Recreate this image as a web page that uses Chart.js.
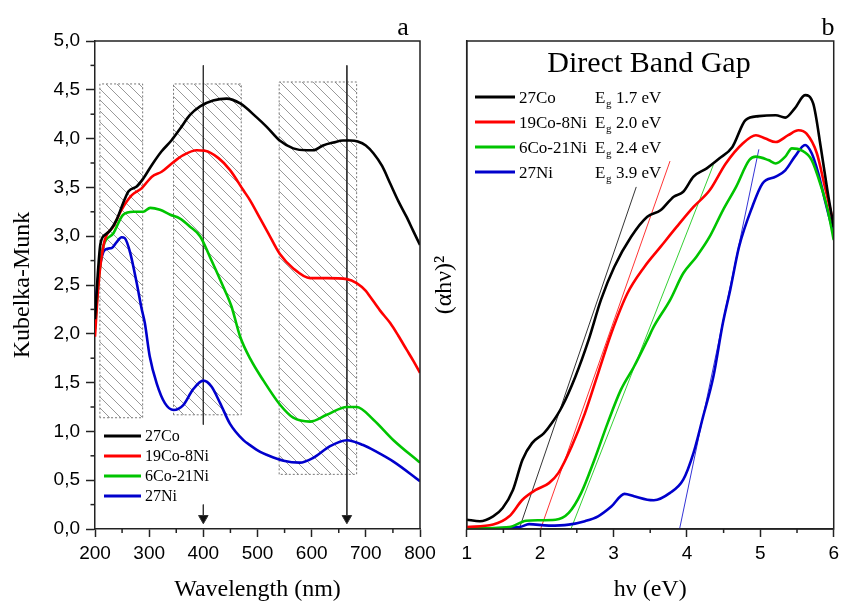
<!DOCTYPE html>
<html lang="en">
<head>
<meta charset="UTF-8">
<title>Kubelka-Munk / Direct Band Gap</title>
<script src="https://cdn.jsdelivr.net/npm/chart.js"></script>
<style>
  body { margin: 0; background: #fff; }
  .wrap { position: relative; width: 844px; height: 606px; }
  canvas { position: absolute; left: 0; top: 0; }
</style>
</head>
<body>
<div class="wrap">
  <canvas id="chartA" width="844" height="606"></canvas>
  <canvas id="chartB" width="844" height="606"></canvas>
</div>
<script>
// ---- panel a : Kubelka-Munk vs wavelength ----
var seriesNames = ['27Co', '19Co-8Ni', '6Co-21Ni', '27Ni'];
var bandGaps = ['1.7', '2.0', '2.4', '3.9'];

var wlCo = [200, 205, 210, 220, 228, 240, 252, 262, 277, 289, 305, 323, 341, 357, 375, 394, 418, 443, 468, 498, 517, 541, 566, 591, 603, 621, 640, 658, 672, 685, 700, 714, 730, 745, 760, 775, 787, 800];
var kmCo = [2.15, 2.60, 2.92, 3.02, 3.06, 3.17, 3.34, 3.46, 3.51, 3.59, 3.73, 3.87, 3.98, 4.10, 4.24, 4.33, 4.39, 4.41, 4.36, 4.22, 4.12, 3.98, 3.90, 3.88, 3.88, 3.93, 3.96, 3.98, 3.98, 3.97, 3.93, 3.85, 3.72, 3.54, 3.36, 3.20, 3.06, 2.91];

var wlCoNi = [200, 205, 210, 218, 234, 249, 268, 286, 305, 323, 345, 363, 388, 403, 428, 449, 474, 486, 505, 520, 541, 566, 597, 628, 665, 683, 700, 708, 726, 745, 760, 775, 788, 800];
var kmCoNi = [1.97, 2.40, 2.70, 2.96, 3.10, 3.27, 3.42, 3.49, 3.61, 3.66, 3.76, 3.83, 3.88, 3.875, 3.80, 3.68, 3.47, 3.37, 3.18, 3.03, 2.82, 2.67, 2.57, 2.57, 2.56, 2.52, 2.44, 2.38, 2.24, 2.11, 1.98, 1.84, 1.72, 1.60];

var wlNiCo = [200, 205, 210, 215, 234, 252, 271, 289, 302, 320, 339, 357, 375, 394, 412, 437, 452, 468, 487, 511, 542, 566, 597, 628, 665, 683, 714, 751, 800];
var kmNiCo = [2.05, 2.45, 2.72, 2.89, 3.03, 3.22, 3.25, 3.25, 3.29, 3.27, 3.22, 3.18, 3.10, 3.00, 2.79, 2.48, 2.28, 1.97, 1.74, 1.52, 1.27, 1.14, 1.10, 1.17, 1.25, 1.25, 1.12, 0.91, 0.68];

var wlNi = [200, 203, 209, 218, 231, 240, 249, 255, 265, 277, 286, 292, 301, 314, 329, 345, 363, 381, 400, 415, 431, 449, 474, 486, 505, 517, 548, 578, 603, 634, 665, 695, 720, 751, 800];
var kmNi = [2.12, 2.42, 2.69, 2.86, 2.88, 2.94, 2.99, 2.98, 2.83, 2.52, 2.26, 2.11, 1.77, 1.49, 1.29, 1.22, 1.27, 1.43, 1.52, 1.46, 1.29, 1.08, 0.91, 0.86, 0.79, 0.76, 0.70, 0.68, 0.73, 0.85, 0.91, 0.86, 0.79, 0.69, 0.49];

// hatched bands
var bandFrom = [209, 345, 540];
var bandTo = [288, 470, 683];
var bandTop = [4.56, 4.56, 4.58];
var bandBottom = [1.14, 1.17, 0.56];

// vertical markers with arrow
var markerWl = [400, 665];
var markerTop = 4.75;
var markerGap = [1.07, 0.25]; // line at 400 is broken between these
var markerHead = 0.11;

// ---- panel b : (ahv)^2 vs photon energy ----
var evCo = [1.0, 1.18, 1.36, 1.49, 1.63, 1.76, 1.89, 2.05, 2.16, 2.30, 2.48, 2.66, 2.83, 3.01, 3.24, 3.46, 3.64, 3.82, 3.95, 4.09, 4.27, 4.44, 4.62, 4.80, 4.98, 5.21, 5.34, 5.47, 5.61, 5.72, 5.83, 5.92, 6.0];
var ahCo = [1.9, 1.6, 2.6, 4.3, 8.0, 14.2, 17.6, 19.6, 21.7, 25.1, 31.2, 38.7, 47.0, 53.7, 59.9, 64.0, 65.3, 68.1, 69.1, 72.2, 73.9, 75.9, 78.3, 83.8, 84.6, 84.8, 84.3, 86.2, 88.9, 87.2, 77.6, 68.8, 61.9];

var evCoNi = [1.0, 1.36, 1.58, 1.76, 1.94, 2.12, 2.25, 2.43, 2.61, 2.79, 2.97, 3.19, 3.42, 3.64, 3.86, 4.09, 4.31, 4.53, 4.76, 4.94, 5.07, 5.21, 5.38, 5.52, 5.63, 5.77, 5.88, 6.0];
var ahCoNi = [0.4, 0.9, 2.6, 6.0, 8.0, 9.4, 11.5, 16.9, 23.7, 31.9, 40.1, 48.3, 53.7, 57.8, 61.9, 66.0, 69.4, 74.9, 79.0, 80.7, 80.0, 79.3, 80.7, 81.7, 81.0, 77.0, 70.1, 62.6];

var evNiCo = [1.0, 1.58, 1.81, 1.98, 2.21, 2.39, 2.56, 2.74, 2.92, 3.10, 3.28, 3.46, 3.55, 3.77, 3.95, 4.13, 4.31, 4.49, 4.67, 4.85, 4.94, 5.11, 5.21, 5.34, 5.43, 5.56, 5.70, 5.83, 5.92, 6.0];
var ahNiCo = [0.1, 0.4, 1.7, 1.8, 1.9, 3.3, 7.4, 14.2, 21.7, 28.5, 33.3, 38.7, 41.5, 46.9, 52.4, 55.8, 59.9, 65.3, 70.1, 75.6, 76.3, 75.6, 74.9, 76.3, 78.0, 77.6, 75.6, 70.1, 65.3, 59.2];

var evNi = [1.0, 1.72, 1.85, 2.12, 2.39, 2.61, 2.79, 2.97, 3.15, 3.28, 3.46, 3.55, 3.77, 3.95, 4.09, 4.22, 4.36, 4.49, 4.59, 4.71, 4.89, 5.03, 5.21, 5.34, 5.47, 5.61, 5.70, 5.79, 5.88, 5.95, 6.0];
var ahNi = [0.1, 0.4, 1.0, 0.7, 0.9, 1.6, 2.6, 4.6, 7.2, 6.7, 6.0, 5.9, 7.4, 10.1, 15.6, 23.0, 31.2, 42.2, 49.0, 57.8, 66.0, 70.8, 72.2, 73.5, 76.3, 78.7, 77.0, 72.9, 67.4, 63.3, 60.6];

// linear fits (tangent lines), start on the axis at Eg
var tanStart = [1.715, 2.007, 2.42, 3.90];
var tanEndX = [3.31, 3.77, 4.36, 4.98];
var tanEndY = [70.1, 75.4, 74.6, 77.8];

var colors = ['#000000', '#ff0000', '#00c400', '#0000cc'];
var sans = 'Liberation Sans, Arial, sans-serif';
var serif = 'Liberation Serif, Times New Roman, serif';

function pts(xs, ys) {
    return xs.map(function (x, i) { return { x: x, y: ys[i] }; });
}

// hatch pattern
var tile = document.createElement('canvas');
tile.width = 11; tile.height = 11;
var tc = tile.getContext('2d');
tc.strokeStyle = '#999';
tc.lineWidth = 1;
tc.beginPath();
tc.moveTo(0, 0); tc.lineTo(11, 11);
tc.moveTo(-1, 10); tc.lineTo(1, 12);
tc.moveTo(10, -1); tc.lineTo(12, 1);
tc.stroke();
var hatch = tc.createPattern(tile, 'repeat');

// minor ticks drawn with the scales' own pixel mapping
const minorTicks = {
    id: 'minorTicks',
    afterDraw(chart, args, opts) {
        const ctx = chart.ctx;
        ctx.save();
        ctx.strokeStyle = '#222';
        ctx.lineWidth = 1.5;
        (opts.list || []).forEach(function (m) {
            const s = chart.scales[m.axis];
            for (let v = s.min + m.step; v < s.max; v += m.step * 2) {
                const p = s.getPixelForValue(v);
                ctx.beginPath();
                if (s.isHorizontal()) { ctx.moveTo(p, s.top); ctx.lineTo(p, s.top + m.len); }
                else { ctx.moveTo(s.right, p); ctx.lineTo(s.right - m.len, p); }
                ctx.stroke();
            }
        });
        ctx.restore();
    }
};

function lineSet(label, data, color, width) {
    return {
        label: label, data: data, borderColor: color, backgroundColor: color,
        borderWidth: width, pointRadius: 0, cubicInterpolationMode: 'monotone', order: 0
    };
}

// ---------- chart a ----------
var dsA = [
    lineSet('27Co', pts(wlCo, kmCo), colors[0], 2.6),
    lineSet('19Co-8Ni', pts(wlCoNi, kmCoNi), colors[1], 2.6),
    lineSet('6Co-21Ni', pts(wlNiCo, kmNiCo), colors[2], 2.6),
    lineSet('27Ni', pts(wlNi, kmNi), colors[3], 2.6)
];
bandFrom.forEach(function (x0, i) {
    dsA.push({
        label: 'band' + i,
        data: [{ x: x0, y: bandBottom[i] }, { x: x0, y: bandTop[i] }, { x: bandTo[i], y: bandTop[i] },
               { x: bandTo[i], y: bandBottom[i] }, { x: x0, y: bandBottom[i] }],
        borderColor: '#777', borderWidth: 1, borderDash: [2, 2], backgroundColor: hatch,
        fill: 'shape', pointRadius: 0, tension: 0, order: 3
    });
});
markerWl.forEach(function (x, i) {
    if (i === 0) {
        dsA.push({ label: 'mk', data: [{ x: x, y: markerTop }, { x: x, y: markerGap[0] }],
            borderColor: '#333', borderWidth: 1, pointRadius: 0, order: 1 });
        dsA.push({ label: 'mk', data: [{ x: x, y: markerGap[1] }, { x: x, y: markerHead }],
            borderColor: '#333', backgroundColor: '#111', borderWidth: 1,
            pointRadius: [0, 5.5], pointStyle: 'triangle', rotation: 180, order: 1 });
    } else {
        dsA.push({ label: 'mk', data: [{ x: x, y: markerTop }, { x: x, y: markerHead }],
            borderColor: '#333', backgroundColor: '#111', borderWidth: 1,
            pointRadius: [0, 5.5], pointStyle: 'triangle', rotation: 180, order: 1 });
    }
});

const notesA = {
    id: 'notesA',
    afterDraw(chart) {
        const ctx = chart.ctx, a = chart.chartArea;
        ctx.save();
        ctx.strokeStyle = '#222'; ctx.lineWidth = 1.5;
        ctx.beginPath();
        ctx.moveTo(a.left, a.top); ctx.lineTo(a.right, a.top); ctx.lineTo(a.right, a.bottom);
        ctx.stroke();
        ctx.fillStyle = '#000';
        ctx.font = '26px ' + serif;
        ctx.textAlign = 'center';
        ctx.fillText('a', 403, 35);
        ctx.textAlign = 'left';
        ctx.font = '16px ' + serif;
        seriesNames.forEach(function (n, i) {
            const y = 436 + i * 20;
            ctx.strokeStyle = colors[i]; ctx.lineWidth = 3;
            ctx.beginPath(); ctx.moveTo(104, y); ctx.lineTo(141, y); ctx.stroke();
            ctx.textBaseline = 'middle';
            ctx.fillText(n, 145, y + 1);
        });
        ctx.restore();
    }
};

new Chart(document.getElementById('chartA'), {
    type: 'line',
    data: { datasets: dsA },
    options: {
        responsive: false, animation: false, devicePixelRatio: 1,
        layout: { padding: { left: 0, right: 424, top: 41, bottom: 0 } },
        plugins: {
            legend: { display: false }, tooltip: { enabled: false },
            minorTicks: { list: [{ axis: 'x', step: 50, len: 4 }, { axis: 'y', step: 0.25, len: 4.5 }] }
        },
        scales: {
            x: {
                type: 'linear', min: 200, max: 800,
                afterFit: function (s) { s.height = 77; },
                ticks: { stepSize: 100, color: '#000', padding: 5, font: { family: sans, size: 19 } },
                grid: { drawOnChartArea: false, tickLength: 8, tickColor: '#222', tickWidth: 1.5 },
                border: { color: '#222', width: 1.5 },
                title: { display: true, text: 'Wavelength (nm)', color: '#000', font: { family: serif, size: 24 }, padding: { top: 0, bottom: 2 } }
            },
            y: {
                min: 0, max: 5,
                afterFit: function (s) { s.width = 95; },
                ticks: { stepSize: 0.5, color: '#000', padding: 6, font: { family: sans, size: 19 },
                    callback: function (v) { return v.toFixed(1).replace('.', ','); } },
                grid: { drawOnChartArea: false, tickLength: 9, tickColor: '#222', tickWidth: 1.5 },
                border: { color: '#222', width: 1.5 },
                title: { display: true, text: 'Kubelka-Munk', color: '#000', font: { family: serif, size: 24 }, padding: { top: 8, bottom: 0 } }
            }
        }
    },
    plugins: [minorTicks, notesA]
});

// ---------- chart b ----------
var dsB = [
    lineSet('27Co', pts(evCo, ahCo), colors[0], 2.6),
    lineSet('19Co-8Ni', pts(evCoNi, ahCoNi), colors[1], 2.6),
    lineSet('6Co-21Ni', pts(evNiCo, ahNiCo), colors[2], 2.6),
    lineSet('27Ni', pts(evNi, ahNi), colors[3], 2.6)
];
tanStart.forEach(function (x0, i) {
    dsB.push({ label: 'fit' + i, data: [{ x: x0, y: 0 }, { x: tanEndX[i], y: tanEndY[i] }],
        borderColor: colors[i], borderWidth: 0.8, pointRadius: 0, order: 1 });
});

const notesB = {
    id: 'notesB',
    afterDraw(chart) {
        const ctx = chart.ctx, a = chart.chartArea;
        ctx.save();
        ctx.strokeStyle = '#222'; ctx.lineWidth = 1.5;
        ctx.strokeRect(a.left, a.top, a.right - a.left, a.bottom - a.top);
        ctx.fillStyle = '#000';
        ctx.textAlign = 'center';
        ctx.font = '26px ' + serif;
        ctx.fillText('b', 828, 35);
        ctx.font = '30px ' + serif;
        ctx.fillText('Direct Band Gap', 649, 72);
        ctx.textAlign = 'left';
        seriesNames.forEach(function (n, i) {
            const y = 97 + i * 25;
            ctx.strokeStyle = colors[i]; ctx.lineWidth = 3;
            ctx.beginPath(); ctx.moveTo(475, y); ctx.lineTo(515, y); ctx.stroke();
            ctx.textBaseline = 'alphabetic';
            ctx.font = '17px ' + serif;
            ctx.fillText(n, 519, y + 6);
            ctx.fillText('E', 595, y + 6);
            ctx.font = '11px ' + serif;
            ctx.fillText('g', 606, y + 10);
            ctx.font = '17px ' + serif;
            ctx.fillText(bandGaps[i] + ' eV', 616, y + 6);
        });
        ctx.restore();
    }
};

new Chart(document.getElementById('chartB'), {
    type: 'line',
    data: { datasets: dsB },
    options: {
        responsive: false, animation: false, devicePixelRatio: 1,
        layout: { padding: { left: 428, right: 4, top: 41, bottom: 0 } },
        plugins: {
            legend: { display: false }, tooltip: { enabled: false },
            minorTicks: { list: [{ axis: 'x', step: 0.5, len: 4 }] }
        },
        scales: {
            x: {
                type: 'linear', min: 1, max: 6,
                afterFit: function (s) { s.height = 77; },
                ticks: { stepSize: 1, color: '#000', padding: 5, font: { family: sans, size: 19 } },
                grid: { drawOnChartArea: false, tickLength: 8, tickColor: '#222', tickWidth: 1.5 },
                border: { color: '#222', width: 1.5 },
                title: { display: true, text: 'hν (eV)', color: '#000', font: { family: serif, size: 24 }, padding: { top: 0, bottom: 2 } }
            },
            y: {
                min: 0, max: 100,
                afterFit: function (s) { s.width = 38.7; },
                ticks: { display: false },
                grid: { display: false },
                border: { color: '#222', width: 1.5 },
                title: { display: true, text: '(αhν)²', color: '#000', font: { family: serif, size: 24 }, padding: { top: 2, bottom: 0 } }
            }
        }
    },
    plugins: [minorTicks, notesB]
});
</script>
</body>
</html>
